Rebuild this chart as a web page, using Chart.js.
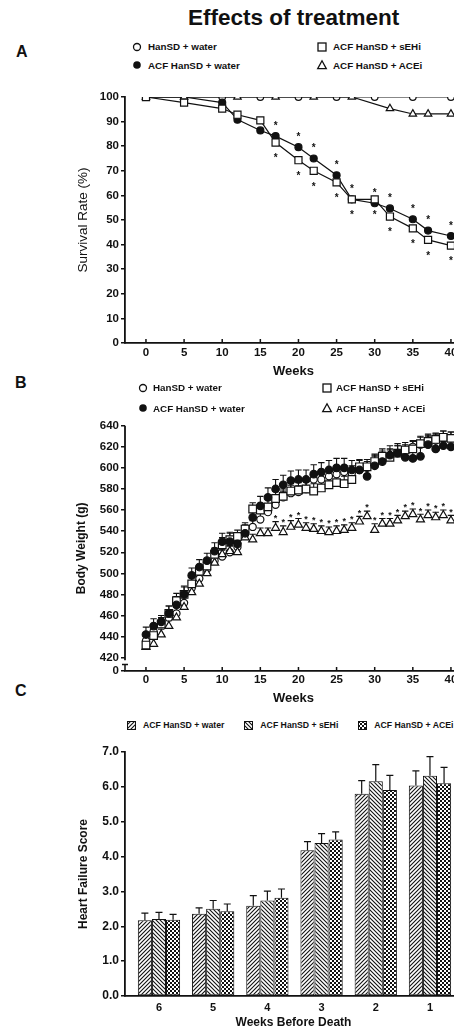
<!DOCTYPE html>
<html>
<head>
<meta charset="utf-8">
<script src="https://cdn.jsdelivr.net/npm/chart.js@4.4.1/dist/chart.umd.min.js"></script>
<style>
html, body { margin: 0; padding: 0; background: #fff; overflow: hidden; width: 454px; height: 1033px; }
body { position: relative; font-family: "Liberation Sans", Arial, sans-serif; color: #111; }
.abs { position: absolute; white-space: nowrap; line-height: 1; font-weight: bold; }
canvas { position: absolute; left: 0; }
</style>
</head>
<body>
<div class="abs" id="title" style="left:188px;top:7px;font-size:22.5px">Effects of treatment</div>
<div class="abs" style="left:16px;top:44px;font-size:16px">A</div>
<div class="abs" style="left:15px;top:375px;font-size:16px">B</div>
<div class="abs" style="left:15px;top:683px;font-size:16px">C</div>

<canvas id="chartA" width="470" height="310" style="top:80px"></canvas>
<canvas id="chartB" width="470" height="310" style="top:410px"></canvas>
<canvas id="chartC" width="470" height="293" style="top:740px"></canvas>

<script>
// ---------------- DATA ----------------
const seriesNames = ["HanSD + water", "ACF HanSD + water", "ACF HanSD + sEHi", "ACF HanSD + ACEi"];
const weekTicks = [0, 5, 10, 15, 20, 25, 30, 35, 40];

// A: survival rate (%)
const survTicks = [0, 10, 20, 30, 40, 50, 60, 70, 80, 90, 100];
const survWeeksHansd = [0, 5, 10, 15, 20, 25, 30, 35, 40];
const survHansd = [100, 100, 100, 100, 100, 100, 100, 100, 100];
const survWeeksAcf = [0, 5, 10, 12, 15, 17, 20, 22, 25, 27, 30, 32, 35, 37, 40];
const survWater = [100, 100, 97.7, 90.8, 86.4, 84.1, 79.6, 75.0, 68.2, 58.4, 56.8, 54.7, 50.3, 45.7, 43.5];
const survSehi = [100, 97.7, 95.3, 92.8, 90.5, 81.5, 74.3, 70.0, 65.3, 58.4, 58.4, 51.4, 46.6, 41.9, 39.6];
const survWeeksAcei = [0, 5, 12, 17, 22, 27, 32, 35, 37, 40];
const survAcei = [100, 100, 100, 100, 100, 100, 95.3, 93.1, 93.1, 93.1];
const survStarWeeks = [17, 20, 22, 25, 27, 30, 32, 35, 37, 40];

// B: body weight (g)
const bwTicks = [420, 440, 460, 480, 500, 520, 540, 560, 580, 600, 620, 640];
const bwMin = 407.4;
const bwBreakLabel = "0";
const bwWeeks = [0, 1, 2, 3, 4, 5, 6, 7, 8, 9, 10, 11, 12, 13, 14, 15, 16, 17, 18, 19, 20,
                 21, 22, 23, 24, 25, 26, 27, 28, 29, 30, 31, 32, 33, 34, 35, 36, 37, 38, 39, 40];
const bwHansd = [436, 445, 452, 458, 462, 472, 486, 495, 504, 512, 516, 520, 525, 537, 544, 551, 558, 565, 572, 576, 577,
                 580, 589, 589, 592, 594, 596, 595, 598, 600, 604, 608, 612, 614, 616, 620, 622, 624, 626, 628, 628];
const bwHansdErr = [5, 6, 5, 6, 6, 7, 6, 6, 6, 7, 6, 6, 6, 7, 6, 6, 7, 6, 6, 7, 6,
                    7, 6, 6, 7, 6, 6, 7, 6, 6, 7, 6, 6, 7, 6, 6, 7, 6, 6, 7, 6];
const bwWater = [442, 450, 454, 462, 470, 480, 498, 506, 512, 521, 530, 530, 528, 538, 553, 564, 572, 580, 584, 588, 589,
                 589, 594, 596, 598, 600, 600, 598, 598, 592, 602, 606, 612, 614, 610, 609, 611, 622, 618, 621, 620];
const bwWaterErr = [7, 7, 6, 7, 8, 8, 7, 7, 7, 8, 8, 8, 7, 8, 9, 9, 9, 9, 9, 9, 9,
                    9, 9, 9, 9, 9, 9, 9, 9, 9, 10, 10, 9, 9, 9, 9, 9, 9, 9, 9, 9];
const bwSehi = [432, 441, 452, 462, 474, 480, 490, 502, 507, 518, 527, 532, 535, 542, 561, 560, 563, 571, 573, 578, 579,
                580, 578, 581, 584, 586, 585, 589, 601, 601, 606, 611, 610, 614, 617, 618, 623, 625, 627, 629, 628];
const bwSehiErr = [6, 6, 6, 7, 7, 7, 6, 6, 6, 6, 7, 7, 6, 6, 6, 6, 7, 7, 7, 7, 7,
                   7, 7, 7, 7, 7, 7, 7, 7, 7, 7, 7, 7, 7, 7, 7, 7, 7, 6, 6, 6];
const bwAcei = [430, 433, 442, 450, 458, 468, 482, 490, 500, 510, 518, 521, 520, 534, 532, 538, 538, 543, 539, 544, 546,
                543, 542, 540, 539, 540, 541, 543, 549, 554, 541, 547, 547, 550, 554, 556, 551, 555, 553, 555, 550];
const bwAceiErr = [5, 5, 5, 5, 5, 5, 5, 5, 5, 5, 5, 5, 5, 5, 5, 5, 5, 6, 6, 6, 6,
                   5, 5, 5, 5, 5, 5, 5, 5, 5, 6, 5, 5, 5, 5, 5, 5, 5, 5, 5, 5];
const bwStarWeeks = [17, 18, 19, 20, 21, 22, 23, 24, 25, 26, 27, 28, 29, 30, 31, 32, 33, 34, 35, 36, 37, 38, 39, 40];

// C: heart failure score
const hfNames = ["ACF HanSD + water", "ACF HanSD + sEHi", "ACF HanSD + ACEi"];
const hfWeeks = [6, 5, 4, 3, 2, 1];
const hfTicks = [0, 1, 2, 3, 4, 5, 6, 7];
const hfWater = [2.17, 2.36, 2.59, 4.18, 5.80, 6.04];
const hfWaterErr = [0.21, 0.17, 0.29, 0.25, 0.38, 0.42];
const hfSehi = [2.21, 2.50, 2.74, 4.39, 6.16, 6.32];
const hfSehiErr = [0.19, 0.24, 0.27, 0.27, 0.48, 0.55];
const hfAcei = [2.19, 2.43, 2.82, 4.49, 5.91, 6.10];
const hfAceiErr = [0.15, 0.21, 0.25, 0.22, 0.42, 0.46];

// ---------------- COMMON ----------------
const FONT = '"Liberation Sans", Arial, sans-serif';
const INK = '#111';
Chart.defaults.font.family = FONT;
Chart.defaults.color = INK;

const pts = (xs, ys) => xs.map((x, i) => ({ x: x, y: ys[i] }));

function yAxis(o) {
    return {
        type: 'linear', min: o.min, max: o.max,
        afterFit: s => { s.width = 125; },
        afterBuildTicks: s => { s.ticks = o.ticks.map(v => ({ value: v })); },
        grid: { drawOnChartArea: false, drawTicks: true, tickLength: 4, color: INK, lineWidth: 1.5 },
        border: { display: o.border !== false, color: INK, width: 1.8 },
        ticks: { font: { size: o.tickSize, weight: 'bold' }, padding: 2, color: INK, callback: o.fmt },
        title: {
            display: true, text: o.title, color: INK,
            font: { size: o.titleSize, weight: o.titleWeight },
            padding: { top: o.titleX - o.titleSize * 0.6, bottom: 0 }
        }
    };
}

function xAxis(o) {
    return {
        type: 'linear', min: o.min, max: o.max, reverse: !!o.reverse, offset: false,
        afterFit: s => { s.height = o.height; },
        afterBuildTicks: s => { s.ticks = o.ticks.map(v => ({ value: v })); },
        grid: { display: false, drawTicks: false, tickLength: 0 },
        border: { color: INK, width: 1.8 },
        ticks: { font: { size: o.tickSize, weight: 'bold' }, padding: o.tickPad, color: INK, maxRotation: 0, autoSkip: false },
        title: {
            display: true, text: o.title, color: INK,
            font: { size: o.titleSize, weight: 'bold' },
            padding: { top: 0, bottom: o.titlePad }
        }
    };
}

// ---------------- PLUGINS ----------------
const inwardTicks = {
    id: 'inwardTicks',
    afterDraw(chart, args, opts) {
        if (!opts.on) return;
        const x = chart.scales.x, ctx = chart.ctx, b = chart.chartArea.bottom;
        ctx.save();
        ctx.strokeStyle = INK; ctx.lineWidth = 1.5;
        x.ticks.forEach(t => {
            const px = x.getPixelForValue(t.value);
            ctx.beginPath(); ctx.moveTo(px, b); ctx.lineTo(px, b - 4); ctx.stroke();
        });
        ctx.restore();
    }
};

function drawErrors(chart, opts) {
    const ctx = chart.ctx, ys = chart.scales.y;
    ctx.save();
    ctx.strokeStyle = INK; ctx.lineWidth = opts.width || 1.1;
    chart.data.datasets.forEach((ds, i) => {
        if (!ds.errors) return;
        const meta = chart.getDatasetMeta(i);
        ds.data.forEach((p, j) => {
            const el = meta.data[j];
            const top = ys.getPixelForValue(p.y + ds.errors[j]);
            ctx.beginPath();
            ctx.moveTo(el.x, el.y); ctx.lineTo(el.x, top);
            ctx.moveTo(el.x - opts.cap, top); ctx.lineTo(el.x + opts.cap, top);
            ctx.stroke();
        });
    });
    ctx.restore();
}

const errorBars = {
    id: 'errorBars',
    beforeDatasetsDraw(chart, args, opts) { if (opts.on && !opts.after) drawErrors(chart, opts); },
    afterDatasetsDraw(chart, args, opts) { if (opts.on && opts.after) drawErrors(chart, opts); }
};

const starMarks = {
    id: 'starMarks',
    afterDatasetsDraw(chart, args, opts) {
        if (!opts.weeks) return;
        const ctx = chart.ctx, ys = chart.scales.y;
        ctx.save();
        ctx.fillStyle = INK; ctx.textAlign = 'center'; ctx.textBaseline = 'alphabetic';
        ctx.font = 'bold ' + opts.size + 'px ' + FONT;
        chart.data.datasets.forEach((ds, i) => {
            if (!ds.stars) return;
            const meta = chart.getDatasetMeta(i);
            ds.data.forEach((p, j) => {
                if (!opts.weeks.includes(p.x)) return;
                const el = meta.data[j];
                let y;
                if (ds.stars === 'above') y = el.y - opts.offset;
                else if (ds.stars === 'below') y = el.y + opts.offset;
                else y = ys.getPixelForValue(p.y + ds.errors[j]) - opts.offset;
                ctx.fillText('*', el.x, y + opts.size * 0.58);
            });
        });
        ctx.restore();
    }
};

const axisBreak = {
    id: 'axisBreak',
    afterDraw(chart, args, opts) {
        if (!opts.on) return;
        const ys = chart.scales.y, ctx = chart.ctx, a = chart.chartArea, x = a.left;
        ctx.save();
        ctx.strokeStyle = INK; ctx.lineWidth = 1.8;
        ctx.beginPath(); ctx.moveTo(x, a.top); ctx.lineTo(x, ys.getPixelForValue(opts.gapTop)); ctx.stroke();
        const g = ys.getPixelForValue(opts.gapBottom);
        ctx.lineWidth = 1.5;
        ctx.beginPath();
        ctx.moveTo(x - 3, g); ctx.lineTo(x + 3, g);
        ctx.moveTo(x, g); ctx.lineTo(x, a.bottom);
        ctx.stroke();
        ctx.restore();
    }
};

// ---------------- MARKERS ----------------
function marker(kind, big) {
    const k = big ? 1.08 : 1;
    const base = { borderColor: INK, pointBorderColor: INK, pointBorderWidth: 1.2, pointHoverRadius: 0 };
    if (kind === 'open') return Object.assign(base, { pointStyle: 'circle', pointRadius: 3.3 * k, pointBackgroundColor: '#fff' });
    if (kind === 'filled') return Object.assign(base, { pointStyle: 'circle', pointRadius: 3.5 * k, pointBackgroundColor: INK });
    if (kind === 'square') return Object.assign(base, { pointStyle: 'rect', pointRadius: 5 * k, pointBackgroundColor: '#fff' });
    return Object.assign(base, { pointStyle: 'triangle', pointRadius: 4.3 * k, pointBackgroundColor: '#fff' });
}

// ---------------- CHART A: SURVIVAL ----------------
const lineA = { showLine: true, borderWidth: 1.2, tension: 0 };
new Chart(document.getElementById('chartA'), {
    type: 'scatter',
    data: {
        datasets: [
            Object.assign({ label: seriesNames[2], data: pts(survWeeksAcf, survSehi), stars: 'below' }, lineA, marker('square')),
            Object.assign({ label: seriesNames[3], data: pts(survWeeksAcei, survAcei) }, lineA, marker('triangle')),
            Object.assign({ label: seriesNames[1], data: pts(survWeeksAcf, survWater), stars: 'above' }, lineA, marker('filled')),
            Object.assign({ label: seriesNames[0], data: pts(survWeeksHansd, survHansd) }, lineA, marker('open'))
        ]
    },
    options: {
        responsive: false, animation: false,
        layout: { padding: { left: 0, right: 8, top: 17, bottom: 0 } },
        plugins: {
            legend: { display: false }, tooltip: { enabled: false },
            inwardTicks: { on: true },
            starMarks: { weeks: survStarWeeks, offset: 13, size: 10 }
        },
        scales: {
            x: xAxis({ min: -2.75, max: 41.45, ticks: weekTicks, height: 47, tickSize: 11.5, tickPad: 3,
                       title: 'Weeks', titleSize: 13, titlePad: 11.2 }),
            y: yAxis({ min: 0, max: 100, ticks: survTicks, tickSize: 11.5, title: 'Survival Rate (%)',
                       titleSize: 13.5, titleWeight: 'normal', titleX: 83 })
        }
    },
    plugins: [inwardTicks, starMarks]
});

// ---------------- CHART B: BODY WEIGHT ----------------
const dotB = { showLine: false };
new Chart(document.getElementById('chartB'), {
    type: 'scatter',
    data: {
        datasets: [
            Object.assign({ label: seriesNames[1], data: pts(bwWeeks, bwWater), errors: bwWaterErr }, dotB, marker('filled', true)),
            Object.assign({ label: seriesNames[2], data: pts(bwWeeks, bwSehi), errors: bwSehiErr }, dotB, marker('square', true)),
            Object.assign({ label: seriesNames[3], data: pts(bwWeeks, bwAcei), errors: bwAceiErr, stars: 'aboveErr' }, dotB, marker('triangle', true)),
            Object.assign({ label: seriesNames[0], data: pts(bwWeeks, bwHansd), errors: bwHansdErr }, dotB, marker('open', true))
        ]
    },
    options: {
        responsive: false, animation: false,
        layout: { padding: { left: 0, right: 8, top: 15.7, bottom: 0 } },
        plugins: {
            legend: { display: false }, tooltip: { enabled: false },
            inwardTicks: { on: true },
            errorBars: { on: true, cap: 3.2 },
            starMarks: { weeks: bwStarWeeks, offset: 6, size: 9 },
            axisBreak: { on: true, gapTop: 417.5, gapBottom: 413.5 }
        },
        scales: {
            x: xAxis({ min: -2.75, max: 41.45, ticks: weekTicks, height: 49, tickSize: 11.5, tickPad: 2.1,
                       title: 'Weeks', titleSize: 13, titlePad: 14.2 }),
            y: yAxis({ min: bwMin, max: 640, ticks: [bwMin].concat(bwTicks), tickSize: 11.5, border: false,
                       fmt: v => (v === bwMin ? bwBreakLabel : v),
                       title: 'Body Weight (g)', titleSize: 12, titleWeight: 'bold', titleX: 81.7 })
        }
    },
    plugins: [errorBars, inwardTicks, starMarks, axisBreak]
});

// ---------------- CHART C: HEART FAILURE SCORE ----------------
function makePattern(kind) {
    const c = document.createElement('canvas');
    c.width = 4; c.height = 4;
    const g = c.getContext('2d');
    g.fillStyle = '#fff'; g.fillRect(0, 0, 4, 4);
    g.strokeStyle = INK; g.fillStyle = INK; g.lineWidth = 1.1;
    if (kind === 'fwd') {
        g.beginPath();
        g.moveTo(0, 4); g.lineTo(4, 0);
        g.moveTo(-1, 1); g.lineTo(1, -1);
        g.moveTo(3, 5); g.lineTo(5, 3);
        g.stroke();
    } else if (kind === 'back') {
        g.beginPath();
        g.moveTo(0, 0); g.lineTo(4, 4);
        g.moveTo(-1, 3); g.lineTo(1, 5);
        g.moveTo(3, -1); g.lineTo(5, 1);
        g.stroke();
    } else {
        g.fillRect(0, 0, 2, 2); g.fillRect(2, 2, 2, 2);
    }
    return g.createPattern(c, 'repeat');
}
const hfPatterns = [makePattern('fwd'), makePattern('back'), makePattern('check')];
const barC = { borderColor: INK, borderWidth: 1, borderSkipped: false, categoryPercentage: 0.78, barPercentage: 1 };

new Chart(document.getElementById('chartC'), {
    type: 'bar',
    data: {
        datasets: [
            Object.assign({ label: hfNames[0], data: pts(hfWeeks, hfWater), errors: hfWaterErr, backgroundColor: hfPatterns[0] }, barC),
            Object.assign({ label: hfNames[1], data: pts(hfWeeks, hfSehi), errors: hfSehiErr, backgroundColor: hfPatterns[1] }, barC),
            Object.assign({ label: hfNames[2], data: pts(hfWeeks, hfAcei), errors: hfAceiErr, backgroundColor: hfPatterns[2] }, barC)
        ]
    },
    options: {
        responsive: false, animation: false,
        layout: { padding: { left: 0, right: 8, top: 12, bottom: 0 } },
        plugins: {
            legend: { display: false }, tooltip: { enabled: false },
            errorBars: { on: true, after: true, cap: 3.5, width: 1.2 }
        },
        scales: {
            x: xAxis({ min: 0.409, max: 6.627, reverse: true, ticks: hfWeeks, height: 37, tickSize: 11, tickPad: 5.4,
                       title: 'Weeks Before Death', titleSize: 12, titlePad: 2.8 }),
            y: yAxis({ min: 0, max: 7, ticks: hfTicks, tickSize: 12, fmt: v => v.toFixed(1),
                       title: 'Heart Failure Score', titleSize: 12, titleWeight: 'bold', titleX: 84 })
        }
    },
    plugins: [errorBars]
});

// ---------------- LEGENDS ----------------
const icons = {
    open: '<circle cx="6" cy="6" r="3.5" fill="#fff" stroke="#111" stroke-width="1.3"/>',
    filled: '<circle cx="6" cy="6" r="3.8" fill="#111"/>',
    square: '<rect x="2" y="2" width="8" height="8" fill="#fff" stroke="#111" stroke-width="1.3"/>',
    triangle: '<polygon points="6,1.8 10.3,9.6 1.7,9.6" fill="#fff" stroke="#111" stroke-width="1.3"/>'
};

function legendItem(kind, text, ix, iy, tx, baseline, size) {
    const s = document.createElement('div');
    s.className = 'abs';
    s.style.left = (ix - 6) + 'px'; s.style.top = (iy - 6) + 'px';
    s.innerHTML = '<svg width="12" height="12" style="display:block">' + icons[kind] + '</svg>';
    document.body.appendChild(s);
    const t = document.createElement('div');
    t.className = 'abs';
    t.style.left = tx + 'px'; t.style.top = (baseline - 0.8465 * size) + 'px'; t.style.fontSize = size + 'px';
    t.textContent = text;
    document.body.appendChild(t);
}

// A
legendItem('open', seriesNames[0], 137, 46.7, 148, 50.5, 9.8);
legendItem('filled', seriesNames[1], 137, 65, 148, 69.3, 9.8);
legendItem('square', seriesNames[2], 322, 46.7, 333, 50.5, 9.8);
legendItem('triangle', seriesNames[3], 322, 65, 333, 69.3, 9.8);
// B
legendItem('open', seriesNames[0], 143, 387.7, 153, 391.7, 9.8);
legendItem('filled', seriesNames[1], 143, 408, 153, 412.3, 9.8);
legendItem('square', seriesNames[2], 327, 387.7, 336, 391.7, 9.8);
legendItem('triangle', seriesNames[3], 327, 408, 336, 412.3, 9.8);

// C (pattern boxes, one row)
(function () {
    const row = document.createElement('div');
    row.className = 'abs';
    row.style.left = '127px'; row.style.top = '721.3px';
    row.style.display = 'flex'; row.style.alignItems = 'center'; row.style.fontSize = '8.7px';
    hfNames.forEach((name, i) => {
        const c = document.createElement('canvas');
        c.width = 9; c.height = 9;
        c.style.position = 'static';
        c.style.marginLeft = i ? '20px' : '0';
        c.style.marginRight = '7px';
        const g = c.getContext('2d');
        g.fillStyle = hfPatterns[i]; g.fillRect(0, 0, 9, 9);
        g.strokeStyle = INK; g.lineWidth = 1; g.strokeRect(0.5, 0.5, 8, 8);
        row.appendChild(c);
        const t = document.createElement('span');
        t.textContent = name;
        row.appendChild(t);
    });
    document.body.appendChild(row);
})();
</script>
</body>
</html>
